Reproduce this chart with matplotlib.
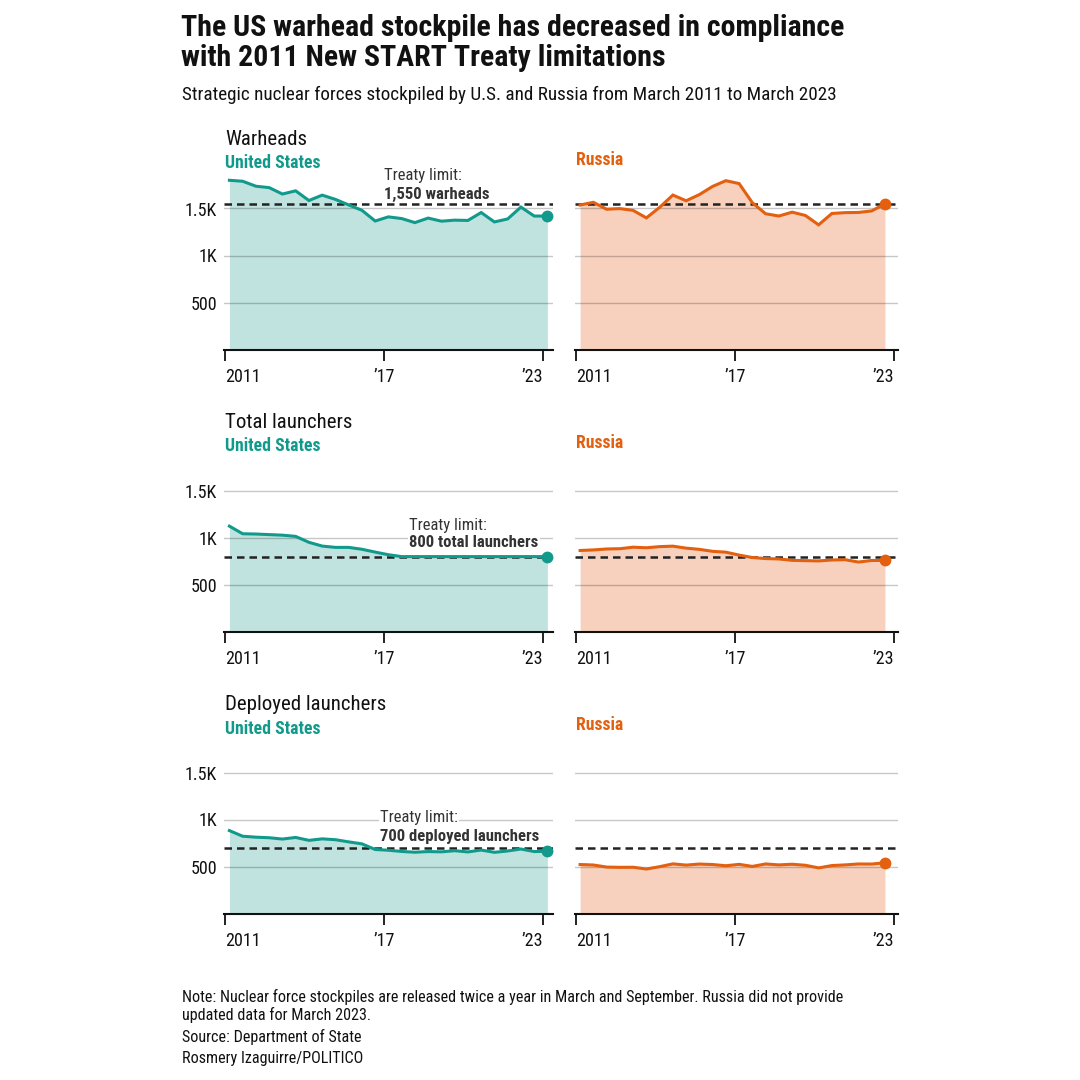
import matplotlib
matplotlib.use("Agg")
import matplotlib.pyplot as plt
from matplotlib import font_manager

# half-yearly reports, March and September
us_dates = [y + m for y in range(2011, 2023) for m in (2 / 12, 8 / 12)] + [2023 + 2 / 12]
ru_dates = us_dates[:-1]

us_warheads = [1800, 1790, 1737, 1722, 1654, 1688, 1585, 1642, 1597, 1538, 1481, 1367, 1411,
               1393, 1350, 1398, 1365, 1376, 1373, 1457, 1357, 1389, 1515, 1420, 1419]
ru_warheads = [1537, 1566, 1492, 1499, 1480, 1400, 1512, 1643, 1582, 1648, 1735, 1796, 1765,
               1561, 1444, 1420, 1461, 1426, 1326, 1447, 1456, 1458, 1474, 1549]

us_total = [1124, 1043, 1040, 1034, 1028, 1015, 952, 912, 898, 898, 878, 848, 820,
            800, 800, 800, 800, 800, 800, 800, 800, 800, 800, 800, 800]
ru_total = [865, 871, 881, 884, 900, 894, 906, 911, 890, 877, 856, 847, 816,
            790, 779, 775, 760, 757, 754, 764, 767, 742, 759, 759]

us_deployed = [882, 822, 812, 806, 792, 809, 778, 794, 785, 762, 741, 681, 673,
               660, 652, 659, 656, 668, 655, 675, 651, 665, 686, 659, 662]
ru_deployed = [521, 516, 494, 491, 492, 473, 498, 528, 515, 526, 521, 508, 523,
               501, 527, 517, 524, 513, 485, 510, 517, 527, 526, 540]

panel_titles = ["Warheads", "Total launchers", "Deployed launchers"]
limits = [1550, 800, 700]
limit_labels = ["1,550 warheads", "800 total launchers", "700 deployed launchers"]
limit_label_x = [2017.0, 2017.95, 2016.85]
limit_label_y = [(1846, 1654), (1136, 945), (1016, 824)]

x_ticks = [2011, 2017, 2023]
x_ticklabels = ["2011", "\u201917", "\u201923"]
y_ticks = [500, 1000, 1500]
y_ticklabels = ["500", "1K", "1.5K"]

US_LINE, US_FILL = "#119a8b", "#c0e3df"
RU_LINE, RU_FILL = "#e2600f", "#f7d1bd"
TEXT = "#111111"

available = {f.name for f in font_manager.fontManager.ttflist}
font = "DejaVu Sans"
for name in ["Roboto Condensed", "Liberation Sans Narrow", "Roboto"]:
    if name in available:
        font = name
        break
plt.rcParams["font.family"] = [font, "DejaVu Sans"]

W = 1080
fig = plt.figure(figsize=(10.8, 10.8), dpi=100)


def fx(px):
    return px / W


def fy(px):
    return 1 - px / W


def add_panel(left, width, bottom, xmax):
    height = 1900 * 0.094
    ax = fig.add_axes([fx(left), fy(bottom), fx(width), height / W])
    ax.set_xlim(2010.97, xmax)
    ax.set_ylim(0, 1900)
    for s in ["top", "right", "left"]:
        ax.spines[s].set_visible(False)
    ax.spines["bottom"].set_linewidth(1.5)
    ax.spines["bottom"].set_color("#111111")
    ax.set_xticks(x_ticks)
    labels = ax.set_xticklabels(x_ticklabels, fontsize=13, color=TEXT)
    labels[0].set_ha("left")
    labels[-1].set_ha("right")
    ax.tick_params(axis="x", length=8, width=1.3, pad=5, color="#111111")
    ax.set_yticks(y_ticks)
    ax.set_yticklabels(y_ticklabels, fontsize=13, color=TEXT)
    ax.tick_params(axis="y", length=0, pad=5)
    ax.grid(axis="y", color="black", alpha=0.22, lw=1)
    ax.set_axisbelow("line")
    return ax


series = [(us_warheads, ru_warheads), (us_total, ru_total), (us_deployed, ru_deployed)]
bottoms = [349.5, 631.8, 913.5]

for i, (us_vals, ru_vals) in enumerate(series):
    b = bottoms[i]
    ax_us = add_panel(224.2, 328.6, b, 2023.37)
    ax_ru = add_panel(574.9, 322.8, b, 2023.15)
    ax_ru.set_yticklabels([])

    for ax, dates, vals, lc, fc in [(ax_us, us_dates, us_vals, US_LINE, US_FILL),
                                    (ax_ru, ru_dates, ru_vals, RU_LINE, RU_FILL)]:
        ax.fill_between(dates, 0, vals, color=fc, lw=0, zorder=1)
        ax.plot(dates, vals, color=lc, lw=2.2, zorder=3, solid_joinstyle="miter")
        ax.plot(dates[-1], vals[-1], "o", color=lc, ms=7.5, zorder=4)
        ax.axhline(limits[i], color="#222222", lw=1.8, ls=(0, (3, 2)), zorder=2.8)

    ty, by = limit_label_y[i]
    ax_us.text(limit_label_x[i], ty, "Treaty limit:", fontsize=12, color="#333333",
               va="center", ha="left", zorder=5,
               bbox=dict(facecolor="white", edgecolor="none", pad=1))
    ax_us.text(limit_label_x[i], by, limit_labels[i], fontsize=12, fontweight="bold",
               color="#333333", va="center", ha="left", zorder=5,
               bbox=dict(facecolor="white", edgecolor="none", pad=1))

    title_y = [139, 422, 704][i]
    fig.text(fx(225), fy(title_y), panel_titles[i], fontsize=15, color=TEXT, va="center")
    fig.text(fx(225), fy(title_y + 24.5), "United States", fontsize=12.8, fontweight="bold",
             color=US_LINE, va="center")
    fig.text(fx(576), fy(title_y + 21), "Russia", fontsize=12.8, fontweight="bold",
             color=RU_LINE, va="center")

fig.text(fx(181), fy(28), "The US warhead stockpile has decreased in compliance",
         fontsize=21.5, fontweight="bold", color=TEXT, va="center")
fig.text(fx(181), fy(58), "with 2011 New START Treaty limitations",
         fontsize=21.5, fontweight="bold", color=TEXT, va="center")
fig.text(fx(182), fy(95), "Strategic nuclear forces stockpiled by U.S. and Russia from March 2011 to March 2023",
         fontsize=13.8, color=TEXT, va="center")

footer = ["Note: Nuclear force stockpiles are released twice a year in March and September. "
          "Russia did not provide",
          "updated data for March 2023.",
          "Source: Department of State",
          "Rosmery Izaguirre/POLITICO"]
for line, y in zip(footer, [997, 1015, 1037, 1059]):
    fig.text(fx(182), fy(y), line, fontsize=11.6, color=TEXT, va="center")

fig.savefig("out.png", dpi=100, facecolor="white")
